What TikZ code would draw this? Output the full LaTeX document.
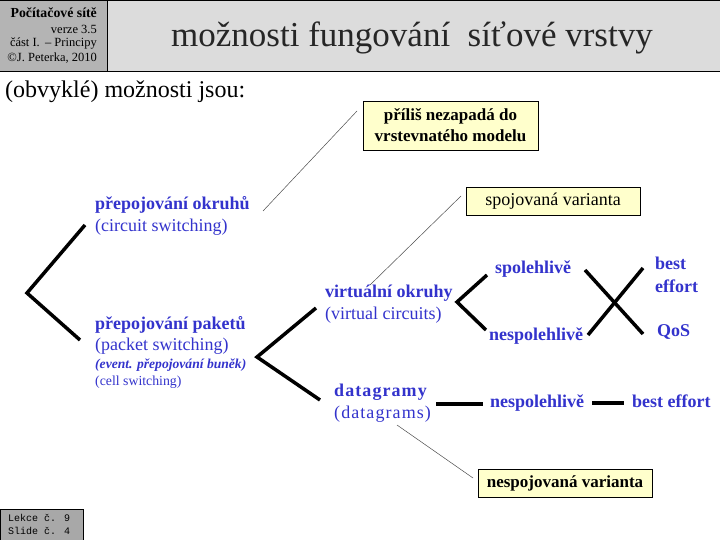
\documentclass[tikz,border=0pt]{standalone}
\usepackage{fontspec}
\setmainfont{Liberation Serif}
\newfontfamily\monof{Liberation Mono}
\definecolor{hdrL}{HTML}{B4B4B4}
\definecolor{hdrR}{HTML}{DCDCDC}
\definecolor{blu}{HTML}{3333CC}
\definecolor{yel}{HTML}{FFFFCC}
\definecolor{lekce}{HTML}{A8A8A8}
\tikzset{
  br/.style={line width=3.5pt},
  thin/.style={line width=0.5pt, draw=black!70},
  note/.style={draw=black, fill=yel, line width=0.8pt, font=\fontsize{17}{21}\selectfont\bfseries, align=center, inner sep=0pt},
  lbl/.style={text=blu, anchor=west, inner sep=0pt, font=\fontsize{18}{20}\selectfont\bfseries},
  sub/.style={text=blu, anchor=west, inner sep=0pt, font=\fontsize{18}{20}\selectfont},
  hdr/.style={anchor=east, inner sep=0pt, font=\fontsize{12.5}{14}\selectfont},
}
\begin{document}
\begin{tikzpicture}[x=1pt,y=-1pt]
\useasboundingbox (0,0) rectangle (720,540);
% header
\fill[hdrL] (0,0) rectangle (107,72);
\fill[hdrR] (107,0) rectangle (720,72);
\draw[line width=1pt] (0,0.5) -- (720,0.5);
\draw[line width=1pt] (0,72) -- (720,72);
\draw[line width=0.8pt] (107,0) -- (107,72);
\node[hdr, font=\fontsize{13.8}{15}\selectfont\bfseries] (h1) at (97,13) {Počítačové sítě};
\node[hdr] (h2) at (97,29) {verze 3.5};
\node[hdr] (h3) at (97,44) {část I.\, – Principy};
\node[hdr] (h4) at (97,58) {©J. Peterka, 2010};
\node[inner sep=0pt, font=\fontsize{35}{38}\selectfont, text=black!85] (title) at (412,38) {možnosti fungování\ \ síťové vrstvy};
\node[anchor=west, inner sep=0pt, font=\fontsize{24}{26}\selectfont] (intro) at (5,92) {(obvyklé) možnosti jsou:};
% notes
\node[note, minimum width=175pt, minimum height=49pt] (n1) at (450.5,125.5) {příliš nezapadá do\\vrstevnatého modelu};
\node[note, minimum width=174pt, minimum height=28pt, font=\fontsize{18}{20}\selectfont] (n2) at (553,201) {spojovaná varianta};
\node[note, minimum width=174pt, minimum height=28pt] (n3) at (565,483) {nespojovaná varianta};
% labels
\node[lbl] (ok) at (95,205) {přepojování okruhů};
\node[sub] (oke) at (95,227) {(circuit switching)};
\node[lbl] (pp) at (95,325) {přepojování paketů};
\node[sub] (ppe) at (95,346) {(packet switching)};
\node[text=blu, anchor=west, inner sep=0pt, font=\fontsize{13.6}{15}\selectfont\bfseries\itshape] (ev) at (95,365) {(event. přepojování buněk)};
\node[text=blu, anchor=west, inner sep=0pt, font=\fontsize{13.8}{15}\selectfont] (cs) at (95,382) {(cell switching)};
\node[lbl] (vo) at (325,293) {virtuální okruhy};
\node[sub] (voe) at (325,315) {(virtual circuits)};
\node[lbl] (sp) at (495,269) {spolehlivě};
\node[lbl] (nsp) at (489,336) {nespolehlivě};
\node[lbl] (be1) at (655,263) {best};
\node[lbl] (be2) at (655,286) {effort};
\node[lbl] (qos) at (657,332) {QoS};
\node[lbl, font=\fontsize{18}{20}\selectfont\bfseries\addfontfeature{LetterSpace=6}] (dg) at (334,392) {datagramy};
\node[sub, font=\fontsize{18}{20}\selectfont\addfontfeature{LetterSpace=6}] (dge) at (334,414) {(datagrams)};
\node[lbl] (nsp2) at (490,403) {nespolehlivě};
\node[lbl] (be3) at (632,401) {best effort};
% brackets
\coordinate (b1a) at (85,225); \coordinate (b1v) at (27,293); \coordinate (b1b) at (80,340);
\draw[br, line join=miter] (b1a) -- (b1v) -- (b1b);
\coordinate (b2a) at (316,308); \coordinate (b2v) at (257,357); \coordinate (b2b) at (320,400);
\draw[br] (b2a) -- (b2v) -- (b2b);
\coordinate (b3a) at (487,275); \coordinate (b3v) at (457,302); \coordinate (b3b) at (486,330);
\draw[br] (b3a) -- (b3v) -- (b3b);
\coordinate (x1) at (585,270); \coordinate (x2) at (643,334);
\coordinate (x3) at (643,268); \coordinate (x4) at (588,335);
\draw[br] (x1) -- (x2); \draw[br] (x3) -- (x4);
\coordinate (d1) at (436,404); \coordinate (d2) at (483,404);
\draw[br] (d1) -- (d2);
\coordinate (d3) at (592,403); \coordinate (d4) at (624,403);
\draw[br] (d3) -- (d4);
% thin connectors
\coordinate (t1) at (263,211);
\draw[thin] (t1) -- (357,111);
\coordinate (t2) at (370,285);
\draw[thin] (t2) -- (461,196);
\coordinate (t3) at (397,425);
\draw[thin] (t3) -- (473,478);
% lekce
\node[draw=black, fill=lekce, line width=0.8pt, minimum width=83pt, minimum height=31pt, anchor=north west, inner sep=0pt] (lk) at (0,509) {};
\node[anchor=west, align=left, inner sep=0pt, font=\monof\fontsize{10}{13}\selectfont] (lkt) at (8,524.5) {Lekce č. 9\\Slide č. 4};
\end{tikzpicture}
\end{document}
